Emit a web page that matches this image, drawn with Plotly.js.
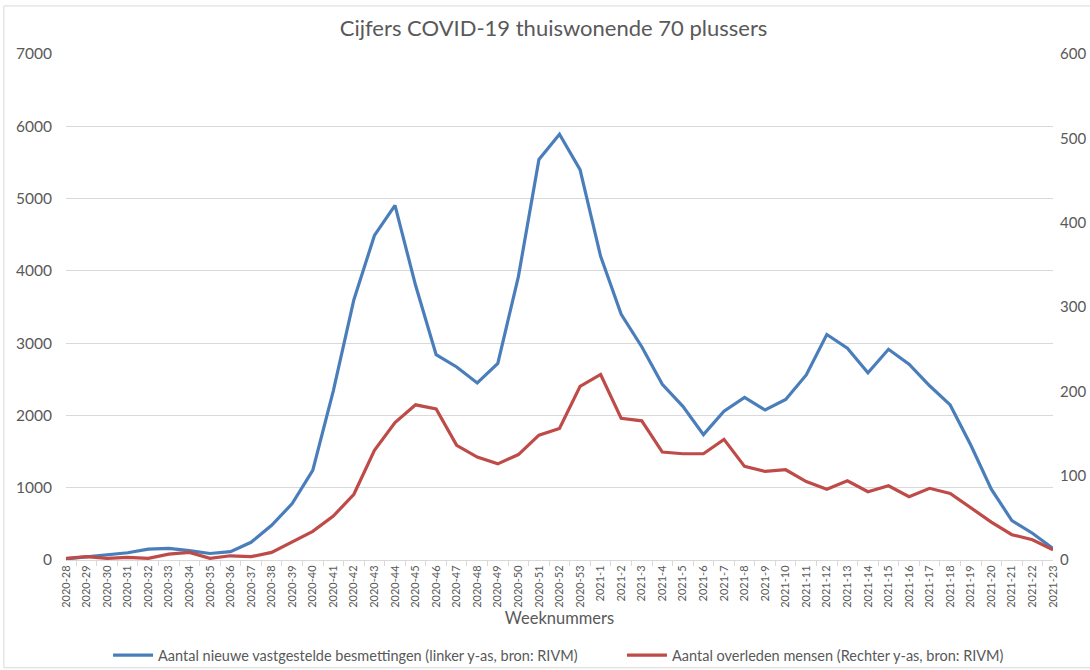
<!DOCTYPE html>
<html>
<head>
<meta charset="utf-8">
<script src="https://cdn.plot.ly/plotly-3.0.1.min.js"></script>
<style>html,body{margin:0;padding:0;background:#fff;}#chart{width:1090px;height:670px;}</style>
</head>
<body>
<div id="chart"></div>
<script>
const weeks = ["2020-28","2020-29","2020-30","2020-31","2020-32","2020-33","2020-34","2020-35","2020-36","2020-37","2020-38","2020-39","2020-40","2020-41","2020-42","2020-43","2020-44","2020-45","2020-46","2020-47","2020-48","2020-49","2020-50","2020-51","2020-52","2020-53","2021-1","2021-2","2021-3","2021-4","2021-5","2021-6","2021-7","2021-8","2021-9","2021-10","2021-11","2021-12","2021-13","2021-14","2021-15","2021-16","2021-17","2021-18","2021-19","2021-20","2021-21","2021-22","2021-23"];
const besmettingen = [15,40,75,100,150,160,130,90,115,245,480,780,1240,2340,3600,4490,4905,3800,2840,2670,2450,2720,3920,5540,5890,5400,4200,3400,2950,2430,2125,1735,2060,2250,2075,2220,2560,3120,2930,2590,2915,2710,2410,2145,1590,980,545,370,160];
const overleden = [2,4,2,3,2,7,9,2,5,4,9,22,34,52,78,130,163,184,179,136,122,114,125,148,156,206,220,168,165,128,126,126,143,111,105,107,93,84,94,81,88,75,85,79,62,45,30,24,12];

const grey = '#595959';
const fontFam = 'Lato, "Open Sans", sans-serif';

const traces = [
  {x: weeks, y: besmettingen, type: 'scatter', mode: 'lines', name: 'Aantal nieuwe vastgestelde besmettingen (linker y-as, bron: RIVM)',
   line: {color: '#4A7EBB', width: 3.2}, yaxis: 'y', legend: 'legend'},
  {x: weeks, y: overleden, type: 'scatter', mode: 'lines', name: 'Aantal overleden mensen (Rechter y-as, bron: RIVM)',
   line: {color: '#BE4B48', width: 3.2}, yaxis: 'y2', legend: 'legend2'}
];

const legendBase = {orientation: 'h', xanchor: 'left', y: -0.188, yanchor: 'middle',
                    font: {size: 14.5, color: grey}, itemwidth: 40, bgcolor: 'rgba(0,0,0,0)'};

const layout = {
  width: 1090, height: 670,
  margin: {l: 66, r: 37, t: 54, b: 110, autoexpand: false},
  paper_bgcolor: '#fff', plot_bgcolor: '#fff',
  font: {family: fontFam, color: grey, size: 12},
  title: {text: 'Cijfers COVID-19 thuiswonende 70 plussers', font: {size: 22, color: grey, family: fontFam},
          x: 0.494, xref: 'paper', xanchor: 'center', y: 0.958, yref: 'container', yanchor: 'middle'},
  xaxis: {type: 'category', tickangle: -90, tickfont: {size: 11, color: grey},
          showline: true, linecolor: '#d9d9d9', linewidth: 1, ticks: 'outside', tickson: 'boundaries',
          ticklen: 5, tickcolor: '#d9d9d9', showgrid: false, zeroline: false,
          title: {text: 'Weeknummers', font: {size: 16.5, color: grey}, standoff: 4}},
  yaxis: {range: [0, 7000], dtick: 1000, showgrid: true, gridcolor: '#d9d9d9', gridwidth: 1,
          zeroline: false, showline: false, ticks: '', tickfont: {size: 15.5, color: grey}, ticklabelstandoff: 13},
  yaxis2: {range: [0, 600], dtick: 100, overlaying: 'y', side: 'right', showgrid: false, zeroline: false,
           showline: false, ticks: '', tickfont: {size: 15, color: grey}, ticklabelstandoff: 6},
  legend: Object.assign({}, legendBase, {x: 0.0426}),
  legend2: Object.assign({}, legendBase, {x: 0.5633}),
  shapes: [{type: 'rect', xref: 'paper', yref: 'paper', x0: -0.063, x1: 1.2, y0: -0.213, y1: 1.095,
            line: {color: '#d9d9d9', width: 1}, fillcolor: 'rgba(0,0,0,0)'}],
  showlegend: true
};

Plotly.newPlot('chart', traces, layout, {displayModeBar: false, staticPlot: true});
</script>
</body>
</html>
